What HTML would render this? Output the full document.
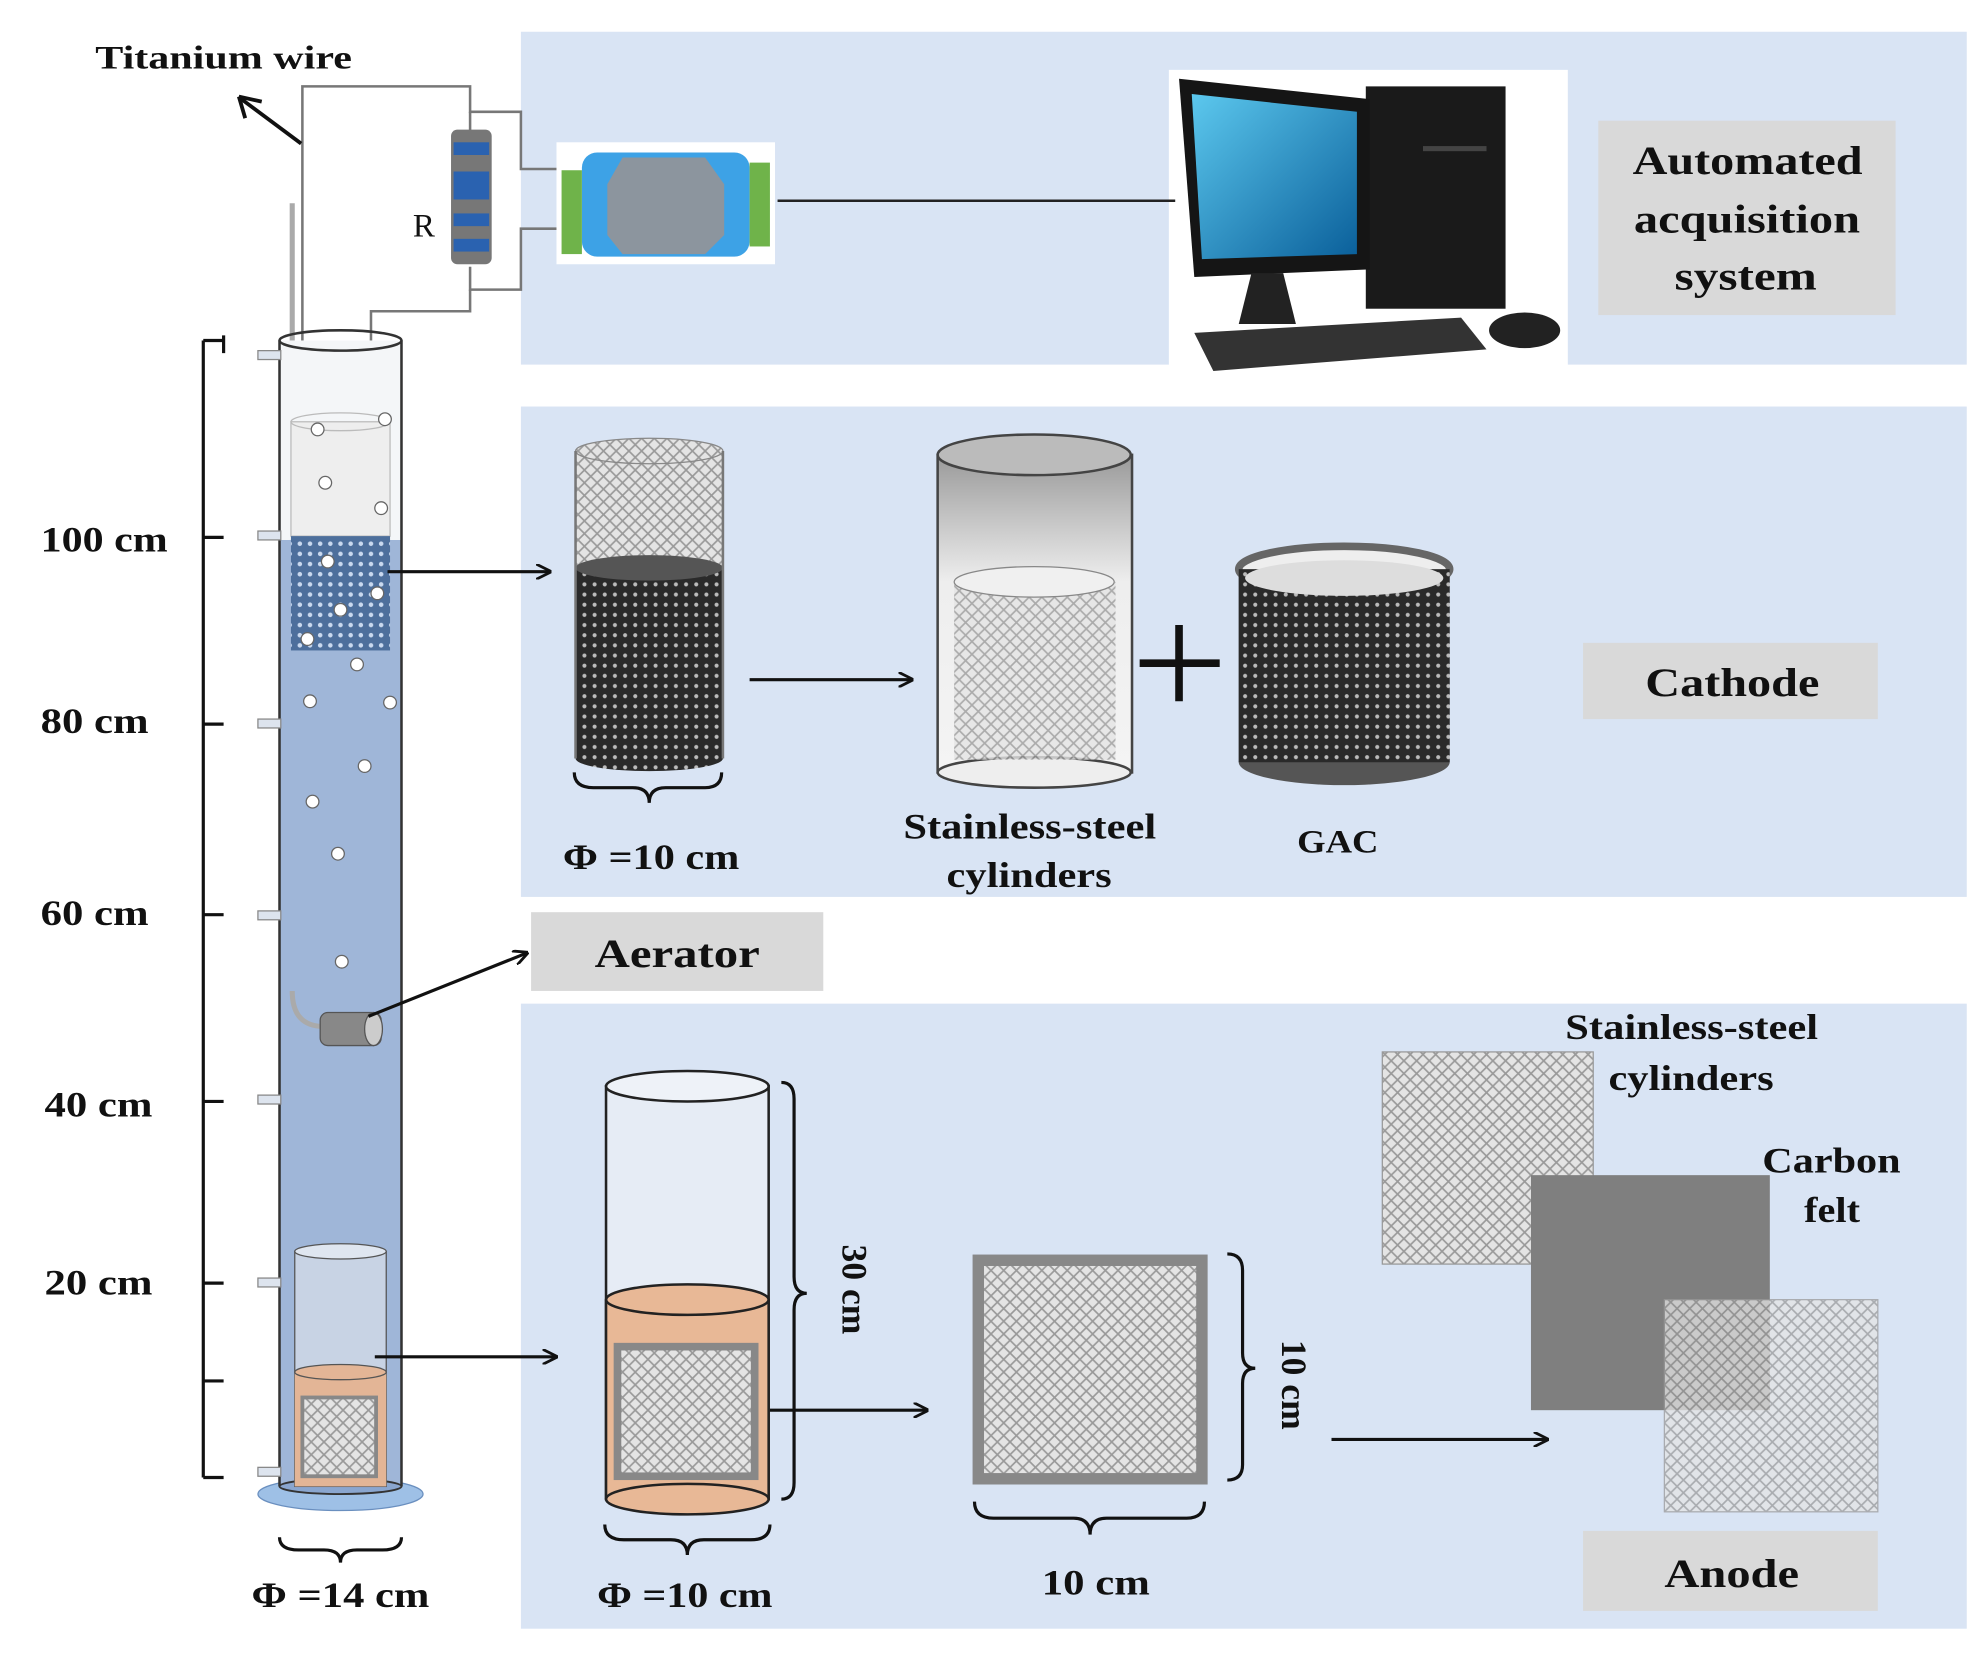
<!DOCTYPE html>
<html><head><meta charset="utf-8">
<style>html,body{margin:0;padding:0;background:#fff}svg{display:block}
text{font-family:"Liberation Serif",serif;font-weight:bold;fill:#111}</style></head>
<body>
<svg width="1982" height="1663" viewBox="0 0 1560 1309" preserveAspectRatio="none" xmlns="http://www.w3.org/2000/svg">
<defs>
<pattern id="mesh" width="10" height="10" patternUnits="userSpaceOnUse">
<rect width="10" height="10" fill="#e4e4e4"/><path d="M0 0L10 10M10 0L0 10" stroke="#9a9a9a" stroke-width="1.3"/></pattern>
<pattern id="dmesh" width="8" height="8" patternUnits="userSpaceOnUse">
<rect width="8" height="8" fill="#2a2a2a"/><circle cx="4" cy="4" r="1.6" fill="#bbb"/></pattern>
<pattern id="bmesh" width="8" height="8" patternUnits="userSpaceOnUse">
<rect width="8" height="8" fill="#4d6f9c"/><circle cx="4" cy="4" r="1.8" fill="#c9d9ef"/></pattern>
<linearGradient id="steel" x1="0" y1="0" x2="0" y2="1"><stop offset="0" stop-color="#9a9a9a"/><stop offset="0.4" stop-color="#eee"/><stop offset="1" stop-color="#f4f4f4"/></linearGradient>
<linearGradient id="scr" x1="0" y1="0" x2="1" y2="1"><stop offset="0" stop-color="#5cc8ee"/><stop offset="1" stop-color="#0a5f9a"/></linearGradient>
<marker id="ar" markerWidth="12" markerHeight="12" refX="11" refY="6" orient="auto" markerUnits="userSpaceOnUse"><path d="M0 0L12 6L0 12" fill="none" stroke="#111" stroke-width="2.2"/></marker>
</defs>

<rect x="410" y="25" width="1138" height="262" fill="#d9e4f4"/>
<rect x="410" y="320" width="1138" height="386" fill="#d9e4f4"/>
<rect x="410" y="790" width="1138" height="492" fill="#d9e4f4"/>

<rect x="1258" y="95" width="234" height="153" fill="#d9d9d9"/>
<text x="1285" y="137" font-size="32" textLength="181" lengthAdjust="spacingAndGlyphs">Automated</text>
<text x="1286" y="183" font-size="32" textLength="178" lengthAdjust="spacingAndGlyphs">acquisition</text>
<text x="1318" y="228" font-size="32" textLength="112" lengthAdjust="spacingAndGlyphs">system</text>
<rect x="1246" y="506" width="232" height="60" fill="#d9d9d9"/>
<text x="1295" y="548" font-size="32" textLength="137" lengthAdjust="spacingAndGlyphs">Cathode</text>
<rect x="418" y="718" width="230" height="62" fill="#d9d9d9"/>
<text x="468" y="761" font-size="32" textLength="130" lengthAdjust="spacingAndGlyphs">Aerator</text>
<rect x="1246" y="1205" width="232" height="63" fill="#d9d9d9"/>
<text x="1310" y="1249" font-size="32" textLength="106" lengthAdjust="spacingAndGlyphs">Anode</text>

<rect x="920" y="55" width="314" height="245" fill="#fff"/>
<rect x="1075" y="68" width="110" height="175" fill="#1a1a1a"/>
<path d="M928 62L1078 78L1078 212L940 218Z" fill="#151515"/>
<path d="M938 74L1068 88L1068 200L946 204Z" fill="url(#scr)"/>
<path d="M985 215L1010 215L1020 255L975 255Z" fill="#222"/>
<path d="M940 262L1150 250L1170 275L955 292Z" fill="#333"/>
<ellipse cx="1200" cy="260" rx="28" ry="14" fill="#222"/>
<rect x="1120" y="115" width="50" height="4" fill="#444"/>

<g fill="none" stroke="#777" stroke-width="2">
<path d="M238 420L238 68L370 68L370 88L410 88L410 133L440 133"/>
<path d="M370 88L370 105"/><path d="M370 210L370 228L410 228L410 180L440 180"/>
<path d="M370 228L370 245L292 245L292 800"/>
<path d="M612 158L925 158" stroke="#222"/>
</g>
<path d="M230 160L230 800" stroke="#aaa" stroke-width="4" fill="none"/>
<rect x="355" y="102" width="32" height="106" rx="5" fill="#777"/>
<rect x="357" y="112" width="28" height="10" fill="#2a62b0"/><rect x="357" y="135" width="28" height="22" fill="#2a62b0"/><rect x="357" y="168" width="28" height="10" fill="#2a62b0"/><rect x="357" y="188" width="28" height="10" fill="#2a62b0"/>
<text x="325" y="186" font-size="26" font-weight="normal" style="font-weight:normal">R</text>
<rect x="438" y="112" width="172" height="96" fill="#fff"/>
<rect x="458" y="120" width="132" height="82" rx="12" fill="#3da2e6"/>
<path d="M490 124L555 124L570 145L570 185L555 200L490 200L478 185L478 145Z" fill="#8c959e"/>
<rect x="442" y="134" width="16" height="66" fill="#6fb34a"/><rect x="590" y="128" width="16" height="66" fill="#6fb34a"/>

<text x="75" y="54" font-size="26" textLength="202" lengthAdjust="spacingAndGlyphs">Titanium wire</text>
<path d="M237 113L190 78" stroke="#111" stroke-width="3"/>
<path d="M188 76L206 80M188 76L193 93" stroke="#111" stroke-width="3" fill="none"/>

<g stroke="#111" stroke-width="2.5" fill="none">
<path d="M160 268L160 1163"/>
<path d="M160 268L176 268M176 264L176 278M160 423L176 423M160 570L176 570M160 720L176 720M160 867L176 867M160 1010L176 1010M160 1087L176 1087M160 1163L176 1163"/>
</g>
<text x="32" y="434" font-size="28" textLength="100" lengthAdjust="spacingAndGlyphs">100 cm</text>
<text x="32" y="577" font-size="28" textLength="85" lengthAdjust="spacingAndGlyphs">80 cm</text>
<text x="32" y="728" font-size="28" textLength="85" lengthAdjust="spacingAndGlyphs">60 cm</text>
<text x="35" y="879" font-size="28" textLength="85" lengthAdjust="spacingAndGlyphs">40 cm</text>
<text x="35" y="1019" font-size="28" textLength="85" lengthAdjust="spacingAndGlyphs">20 cm</text>

<ellipse cx="268" cy="1176" rx="65" ry="13" fill="#9ec0e6" stroke="#6a8fbf"/>
<rect x="220" y="425" width="96" height="746" fill="#9fb6d8"/>
<rect x="220" y="268" width="96" height="157" fill="#f4f6f8"/>
<path d="M220 268L220 1170M316 268L316 1170" stroke="#333" stroke-width="2"/>
<ellipse cx="268" cy="268" rx="48" ry="8" fill="none" stroke="#333" stroke-width="2"/>
<ellipse cx="268" cy="1170" rx="48" ry="6" fill="#8aa6cf" stroke="#333" stroke-width="1.5"/>
<g fill="#dde4ee" stroke="#888"><rect x="203" y="276" width="18" height="7"/><rect x="203" y="418" width="18" height="7"/><rect x="203" y="566" width="18" height="7"/><rect x="203" y="717" width="18" height="7"/><rect x="203" y="862" width="18" height="7"/><rect x="203" y="1006" width="18" height="7"/><rect x="203" y="1155" width="18" height="7"/></g>
<rect x="229" y="332" width="78" height="90" fill="#eee" stroke="#bbb"/>
<rect x="229" y="422" width="78" height="90" fill="url(#bmesh)"/>
<ellipse cx="268" cy="332" rx="39" ry="7" fill="none" stroke="#bbb"/>
<g fill="#fff" stroke="#666"><circle cx="250" cy="338" r="5"/><circle cx="303" cy="330" r="5"/><circle cx="256" cy="380" r="5"/><circle cx="300" cy="400" r="5"/><circle cx="258" cy="442" r="5"/><circle cx="268" cy="480" r="5"/><circle cx="297" cy="467" r="5"/><circle cx="242" cy="503" r="5"/><circle cx="281" cy="523" r="5"/><circle cx="244" cy="552" r="5"/><circle cx="307" cy="553" r="5"/><circle cx="287" cy="603" r="5"/><circle cx="246" cy="631" r="5"/><circle cx="266" cy="672" r="5"/><circle cx="269" cy="757" r="5"/></g>
<path d="M230 780Q230 808 255 808" stroke="#aaa" stroke-width="4" fill="none"/>
<rect x="252" y="797" width="48" height="26" rx="6" fill="#888" stroke="#555"/>
<ellipse cx="294" cy="810" rx="7" ry="13" fill="#ccc" stroke="#555"/>
<path d="M290 800L415 750" stroke="#111" stroke-width="2.5" marker-end="url(#ar)"/>
<rect x="232" y="985" width="72" height="185" fill="#c8d3e4" stroke="#555"/>
<ellipse cx="268" cy="985" rx="36" ry="6" fill="#dfe6f0" stroke="#555"/>
<rect x="232" y="1080" width="72" height="90" fill="#e3b596"/>
<ellipse cx="268" cy="1080" rx="36" ry="6" fill="#e3b596" stroke="#555"/>
<rect x="238" y="1100" width="58" height="62" fill="url(#mesh)" stroke="#888" stroke-width="3"/>
<path d="M220 1210Q220 1220 235 1220L255 1220Q268 1220 268 1230Q268 1220 281 1220L301 1220Q316 1220 316 1210" fill="none" stroke="#111" stroke-width="2.5"/>
<text x="198" y="1265" font-size="28" textLength="140" lengthAdjust="spacingAndGlyphs">Φ =14 cm</text>

<g stroke="#111" stroke-width="2.5" marker-end="url(#ar)">
<path d="M305 450L433 450"/><path d="M590 535L718 535"/>
<path d="M295 1068L438 1068"/><path d="M588 1110L730 1110"/><path d="M1048 1133L1218 1133"/>
</g>

<rect x="453" y="355" width="116" height="92" fill="url(#mesh)"/>
<ellipse cx="511" cy="355" rx="58" ry="10" fill="url(#mesh)" stroke="#888"/>
<rect x="453" y="447" width="116" height="150" fill="url(#dmesh)"/>
<ellipse cx="511" cy="447" rx="58" ry="10" fill="#555"/>
<ellipse cx="511" cy="597" rx="58" ry="10" fill="url(#dmesh)"/>
<path d="M453 355L453 597M569 355L569 597" stroke="#777" stroke-width="2"/>
<path d="M452 608Q452 620 467 620L498 620Q511 620 511 632Q511 620 524 620L555 620Q568 620 568 608" fill="none" stroke="#111" stroke-width="2.5"/>
<text x="443" y="684" font-size="28" textLength="139" lengthAdjust="spacingAndGlyphs">Φ =10 cm</text>

<rect x="738" y="358" width="153" height="250" fill="url(#steel)" stroke="#444" stroke-width="2"/>
<ellipse cx="814" cy="358" rx="76" ry="16" fill="#bbb" stroke="#444" stroke-width="2"/>
<ellipse cx="814" cy="608" rx="76" ry="12" fill="#eee" stroke="#444" stroke-width="2"/>
<rect x="751" y="458" width="127" height="140" fill="url(#mesh)" opacity="0.8"/>
<ellipse cx="814" cy="458" rx="63" ry="12" fill="#f0f0f0" stroke="#888"/>
<text x="711" y="660" font-size="28" textLength="199" lengthAdjust="spacingAndGlyphs">Stainless-steel</text>
<text x="745" y="698" font-size="28" textLength="130" lengthAdjust="spacingAndGlyphs">cylinders</text>
<path d="M897 522L960 522M928 492L928 552" stroke="#111" stroke-width="6"/>
<rect x="975" y="448" width="166" height="152" fill="url(#dmesh)"/>
<ellipse cx="1058" cy="448" rx="83" ry="18" fill="#eee" stroke="#666" stroke-width="6"/>
<ellipse cx="1058" cy="600" rx="83" ry="18" fill="#555"/>
<rect x="975" y="448" width="166" height="152" fill="url(#dmesh)"/>
<ellipse cx="1058" cy="455" rx="78" ry="14" fill="#ddd"/>
<text x="1021" y="671" font-size="26" textLength="64" lengthAdjust="spacingAndGlyphs">GAC</text>

<rect x="477" y="855" width="128" height="325" fill="#e6ecf5" stroke="#222" stroke-width="2"/>
<ellipse cx="541" cy="855" rx="64" ry="12" fill="#eef2f8" stroke="#222" stroke-width="2"/>
<rect x="477" y="1023" width="128" height="157" fill="#e8b896"/>
<ellipse cx="541" cy="1180" rx="64" ry="12" fill="#e8b896" stroke="#222" stroke-width="2"/>
<ellipse cx="541" cy="1023" rx="64" ry="12" fill="#e8b896" stroke="#222" stroke-width="2"/>
<path d="M477 1023L477 1180M605 1023L605 1180" stroke="#222" stroke-width="2"/>
<rect x="486" y="1060" width="108" height="102" fill="url(#mesh)" stroke="#888" stroke-width="6"/>
<path d="M615 852Q625 852 625 865L625 1005Q625 1018 635 1018Q625 1018 625 1031L625 1167Q625 1180 615 1180" fill="none" stroke="#111" stroke-width="2.5"/>
<text transform="translate(663,1015) rotate(90)" font-size="28" text-anchor="middle">30 cm</text>
<path d="M476 1200Q476 1212 491 1212L528 1212Q541 1212 541 1224Q541 1212 554 1212L591 1212Q606 1212 606 1200" fill="none" stroke="#111" stroke-width="2.5"/>
<text x="470" y="1265" font-size="28" textLength="138" lengthAdjust="spacingAndGlyphs">Φ =10 cm</text>

<rect x="770" y="992" width="176" height="172" fill="url(#mesh)" stroke="#888" stroke-width="9"/>
<path d="M966 987Q978 987 978 1000L978 1065Q978 1077 988 1077Q978 1077 978 1089L978 1153Q978 1165 966 1165" fill="none" stroke="#111" stroke-width="2.5"/>
<text transform="translate(1009,1090) rotate(90)" font-size="28" text-anchor="middle">10 cm</text>
<path d="M767 1182Q767 1195 782 1195L845 1195Q858 1195 858 1208Q858 1195 871 1195L934 1195Q948 1195 948 1182" fill="none" stroke="#111" stroke-width="2.5"/>
<text x="820" y="1255" font-size="28" textLength="85" lengthAdjust="spacingAndGlyphs">10 cm</text>

<rect x="1088" y="828" width="166" height="167" fill="url(#mesh)" stroke="#999"/>
<rect x="1205" y="925" width="188" height="185" fill="#7f7f7f"/>
<rect x="1310" y="1023" width="168" height="167" fill="url(#mesh)" stroke="#999" opacity="0.75"/>
<text x="1232" y="818" font-size="28" textLength="199" lengthAdjust="spacingAndGlyphs">Stainless-steel</text>
<text x="1266" y="858" font-size="28" textLength="130" lengthAdjust="spacingAndGlyphs">cylinders</text>
<text x="1387" y="923" font-size="28" textLength="109" lengthAdjust="spacingAndGlyphs">Carbon</text>
<text x="1420" y="962" font-size="28" textLength="44" lengthAdjust="spacingAndGlyphs">felt</text>
</svg>
</body></html>
